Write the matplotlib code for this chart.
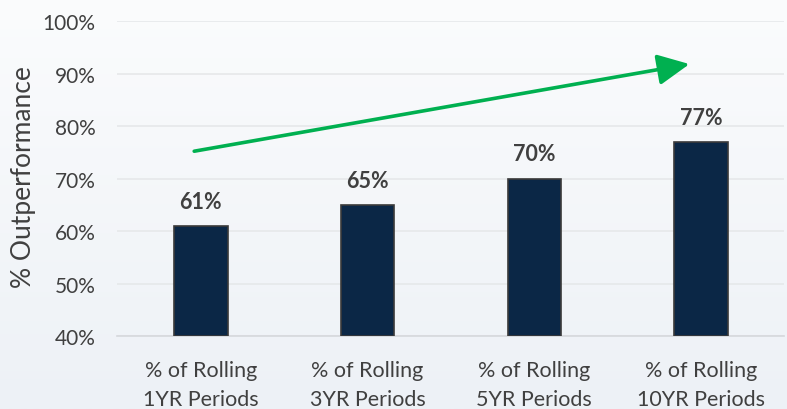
import numpy as np
import matplotlib
matplotlib.use('Agg')
import matplotlib.pyplot as plt
from matplotlib.colors import LinearSegmentedColormap

### Data

categories = ['% of Rolling\n1YR Periods', '% of Rolling\n3YR Periods',
              '% of Rolling\n5YR Periods', '% of Rolling\n10YR Periods']
outperf = [61, 65, 70, 77]          # % of periods outperforming
yticks = [40, 50, 60, 70, 80, 90, 100]

# trend arrow (start/end in category units, % units)
arrow_start = (-0.04, 75.2)
arrow_end = (2.93, 91.8)

plt.rcParams['font.family'] = ['Lato', 'DejaVu Sans']

textCol = '#404040'
barCol = '#0B2746'
green = '#00B050'

fig = plt.figure(figsize=(7.87, 4.10), dpi=100)

# soft vertical gradient behind everything
bg = fig.add_axes([0, 0, 1, 1], zorder=-10)
grad = np.linspace(0, 1, 256).reshape(-1, 1)
cmap = LinearSegmentedColormap.from_list('bg', ['#FBFCFD', '#EDF1F6'])
bg.imshow(grad, aspect='auto', cmap=cmap, extent=[0, 1, 0, 1])
bg.axis('off')

ax = fig.add_axes([0.1493, 0.178, 0.8475, 0.7683])
ax.patch.set_alpha(0)

x = np.arange(len(categories))
ax.bar(x, [v - 40 for v in outperf], bottom=40, width=0.32, color=barCol,
       edgecolor='#3A3A3A', linewidth=1.2, zorder=3)

for xi, v in zip(x, outperf):
    ax.annotate('%d%%' % v, (xi, v), xytext=(0, 13), textcoords='offset points',
                ha='center', va='baseline', fontsize=15.5, fontweight='bold', color=textCol)

ax.annotate('', xy=arrow_end, xytext=arrow_start,
            arrowprops=dict(arrowstyle='-|>,head_length=0.97,head_width=0.47',
                            mutation_scale=20, color=green, lw=2.6,
                            shrinkA=0, shrinkB=0), zorder=4)

ax.set_xlim(-0.5, 3.5)
ax.set_ylim(40, 100)
ax.set_yticks(yticks)
ax.set_yticklabels(['%d%%' % t for t in yticks])
ax.set_xticks(x)
ax.set_xticklabels(categories, linespacing=1.6)

ax.tick_params(axis='y', length=0, pad=16, labelsize=15, labelcolor=textCol)
ax.tick_params(axis='x', length=0, pad=17, labelsize=15.5, labelcolor=textCol)

ax.grid(axis='y', color='#E6E8EA', linewidth=1.2, zorder=0)
ax.set_axisbelow(True)
for s in ['top', 'right', 'left']:
    ax.spines[s].set_visible(False)
ax.spines['bottom'].set_color('#D5D8DC')
ax.spines['bottom'].set_linewidth(1.2)

ax.set_ylabel('% Outperformance', fontsize=19, color=textCol)
ax.yaxis.set_label_coords(-0.122, 0.508)

fig.savefig('out.png', dpi=100)
